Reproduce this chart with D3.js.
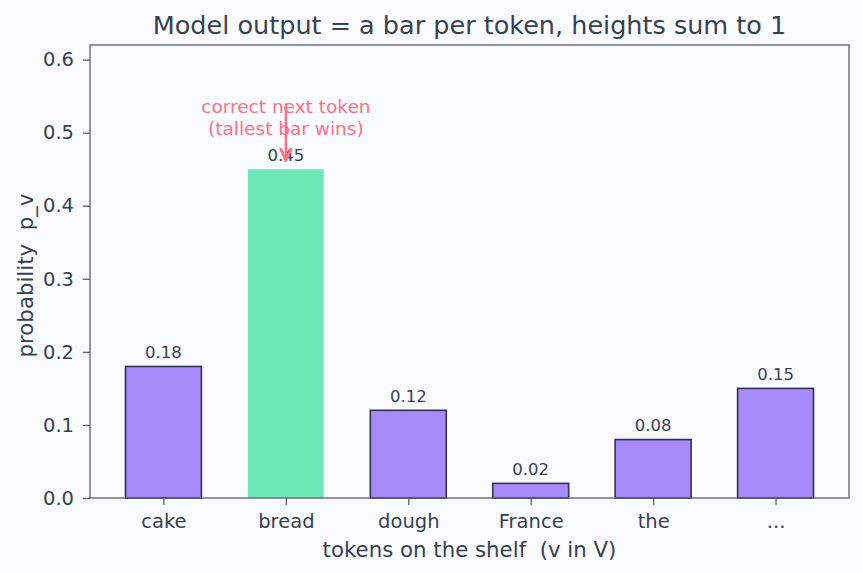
<!DOCTYPE html>
<html>
<head>
<meta charset="utf-8">
<script src="https://cdn.jsdelivr.net/npm/d3@7"></script>
<style>
  body { margin: 0; background: #fafbfe; }
  svg { display: block; font-family: "DejaVu Sans", sans-serif; }
  text { white-space: pre; }
</style>
</head>
<body>
<svg id="chart"></svg>
<script>
/* データ */
const tokens = ["cake", "bread", "dough", "France", "the", "..."];
const probs = [0.18, 0.45, 0.12, 0.02, 0.08, 0.15];
const winner = "bread";
const yTicks = [0.0, 0.1, 0.2, 0.3, 0.4, 0.5, 0.6];

const width = 863, height = 573;
const margin = { left: 90, right: 14, top: 45, bottom: 75 };

const textColor = "#374151";
const axisColor = "#5b5f6b";

const svg = d3.select("#chart")
  .attr("width", width)
  .attr("height", height);

svg.append("rect")
  .attr("width", width).attr("height", height)
  .attr("fill", "#fafbfe");

/* スケール */
const x = d3.scaleLinear()
  .domain([-0.6, tokens.length - 0.4])
  .range([margin.left, width - margin.right]);
const y = d3.scaleLinear()
  .domain([0, 0.62])
  .range([height - margin.bottom, margin.top]);

const barW = x(0.62) - x(0);

/* 棒 */
svg.append("g")
  .selectAll("rect")
  .data(tokens)
  .join("rect")
  .attr("x", (d, i) => x(i) - barW / 2)
  .attr("y", (d, i) => y(probs[i]))
  .attr("width", barW)
  .attr("height", (d, i) => y(0) - y(probs[i]))
  .attr("fill", d => d === winner ? "#6ee7b7" : "#a78bfa")
  .attr("stroke", d => d === winner ? "none" : "#2f3350")
  .attr("stroke-width", 1.6);

/* 値ラベル */
svg.append("g")
  .selectAll("text")
  .data(tokens)
  .join("text")
  .attr("x", (d, i) => x(i))
  .attr("y", (d, i) => y(probs[i]) - 8.5)
  .attr("text-anchor", "middle")
  .attr("font-size", 16.5)
  .attr("fill", textColor)
  .text((d, i) => probs[i].toFixed(2));

/* 軸 */
const xAxis = svg.append("g")
  .attr("transform", "translate(0," + (height - margin.bottom) + ")")
  .call(d3.axisBottom(x)
    .tickValues(d3.range(tokens.length))
    .tickFormat(i => tokens[i])
    .tickSize(7).tickPadding(9));
const yAxis = svg.append("g")
  .attr("transform", "translate(" + margin.left + ",0)")
  .call(d3.axisLeft(y)
    .tickValues(yTicks)
    .tickFormat(d3.format(".1f"))
    .tickSize(7).tickPadding(9));

[xAxis, yAxis].forEach(g => {
  g.select(".domain").remove();
  g.selectAll("line").attr("stroke", axisColor).attr("stroke-width", 1.3);
  g.selectAll("text").attr("fill", textColor).attr("font-size", 19.5)
    .attr("font-family", "DejaVu Sans, sans-serif");
});

/* 枠 */
svg.append("rect")
  .attr("x", margin.left).attr("y", margin.top)
  .attr("width", width - margin.left - margin.right)
  .attr("height", height - margin.top - margin.bottom)
  .attr("fill", "none")
  .attr("stroke", axisColor)
  .attr("stroke-width", 1.3);

/* タイトルとラベル */
svg.append("text")
  .attr("x", (margin.left + width - margin.right) / 2)
  .attr("y", 34)
  .attr("text-anchor", "middle")
  .attr("font-size", 25.5)
  .attr("fill", textColor)
  .text("Model output = a bar per token, heights sum to 1");

svg.append("text")
  .attr("x", (margin.left + width - margin.right) / 2)
  .attr("y", 557)
  .attr("text-anchor", "middle")
  .attr("font-size", 21.3)
  .attr("fill", textColor)
  .text("tokens on the shelf  (v in V)");

svg.append("text")
  .attr("transform", "translate(33," + ((margin.top + height - margin.bottom) / 2 + 4) + ") rotate(-90)")
  .attr("text-anchor", "middle")
  .attr("font-size", 21.3)
  .attr("fill", textColor)
  .text("probability  p_v");

/* 注釈 */
const wi = tokens.indexOf(winner);
const annColor = "#fb7185";
svg.append("defs").append("marker")
  .attr("id", "arrow")
  .attr("viewBox", "0 0 10 10")
  .attr("refX", 9).attr("refY", 5)
  .attr("markerWidth", 5.5).attr("markerHeight", 5.5)
  .attr("orient", "auto")
  .append("path")
  .attr("d", "M0,1 L9,5 L0,9")
  .attr("fill", "none")
  .attr("stroke", annColor)
  .attr("stroke-width", 2);

const ann = svg.append("text")
  .attr("x", x(wi))
  .attr("text-anchor", "middle")
  .attr("font-size", 18.5)
  .attr("fill", annColor);
ann.append("tspan").attr("x", x(wi)).attr("y", 112.5).text("correct next token");
ann.append("tspan").attr("x", x(wi)).attr("y", 134.5).text("(tallest bar wins)");

svg.append("line")
  .attr("x1", x(wi)).attr("x2", x(wi))
  .attr("y1", y(0.54)).attr("y2", y(0.462))
  .attr("stroke", annColor)
  .attr("stroke-width", 2.5)
  .attr("marker-end", "url(#arrow)");
</script>
</body>
</html>
